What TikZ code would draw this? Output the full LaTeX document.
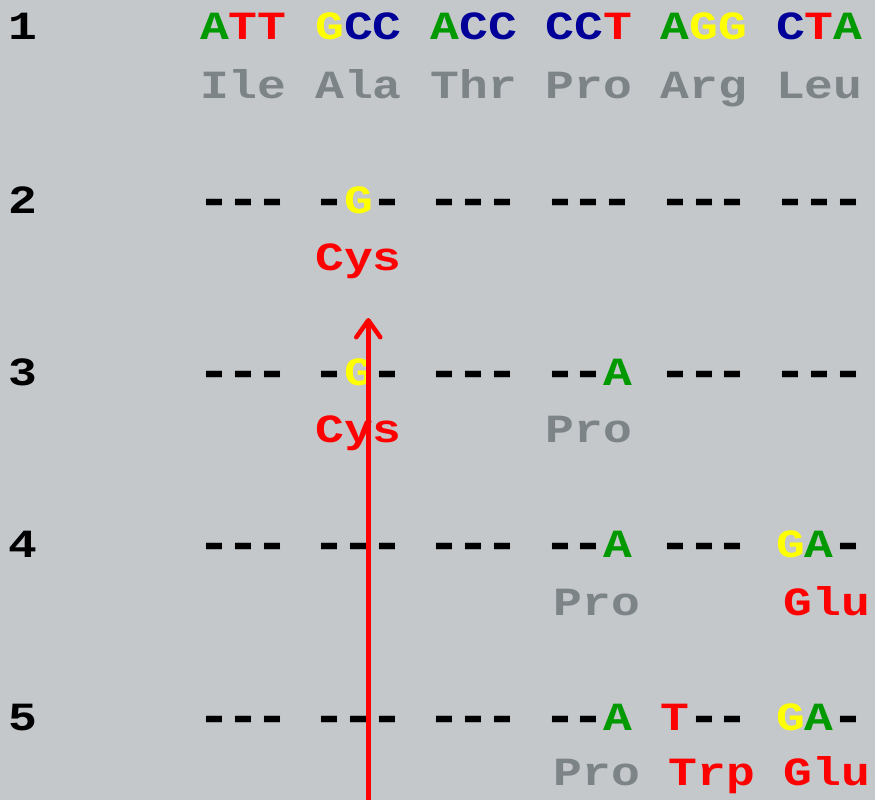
\documentclass[tikz,border=0pt]{standalone}
\usepackage{fontspec}
\newfontfamily\seqfont[FakeStretch=1.2]{Liberation Mono}
\usetikzlibrary{arrows.meta}
\definecolor{pagebg}{RGB}{197,200,203}
\definecolor{ntgreen}{RGB}{0,153,0}
\definecolor{ntred}{RGB}{255,0,0}
\definecolor{ntyellow}{RGB}{255,255,0}
\definecolor{ntblue}{RGB}{0,0,153}
\definecolor{aagray}{RGB}{125,132,135}
% coloured nucleotides
\newcommand\ntA{\textcolor{ntgreen}{A}}
\newcommand\ntT{\textcolor{ntred}{T}}
\newcommand\ntG{\textcolor{ntyellow}{G}}
\newcommand\ntC{\textcolor{ntblue}{C}}
% an unchanged position: a widened, thickened hyphen in one character cell
\newcommand\gap{\makebox[28.8pt][c]{\raisebox{-3.5pt}{\scalebox{1.18}[1.35]{-}}}}
\begin{document}
\begin{tikzpicture}[x=1pt,y=-1pt,
  seq/.style={anchor=base west,inner sep=0pt,outer sep=0pt,
    font=\fontsize{40}{40}\selectfont\seqfont\bfseries},
  rowlabel/.style={seq,text=black},
  aa/.style={seq,text=aagray},
  aanew/.style={seq,text=ntred},
  mutation/.style={draw=ntred,line width=4.5pt,
    -{Straight Barb[length=17pt,width=24pt,round]}}]
\useasboundingbox (0,0) rectangle (875,800);
\fill[pagebg] (0,0) rectangle (875,800);

% row labels
\node[rowlabel] (l1) at (8.6,40)  {1};
\node[rowlabel] (l2) at (8.6,213) {2};
\node[rowlabel] (l3) at (8.6,385) {3};
\node[rowlabel] (l4) at (8.6,557) {4};
\node[rowlabel] (l5) at (8.6,730) {5};

% row 1: original sequence
\node[seq] (s1a) at (200,40)   {\ntA\ntT\ntT};
\node[seq] (s1b) at (315.2,40) {\ntG\ntC\ntC};
\node[seq] (s1c) at (430.4,40) {\ntA\ntC\ntC};
\node[seq] (s1d) at (545.6,40) {\ntC\ntC\ntT};
\node[seq] (s1e) at (660.8,40) {\ntA\ntG\ntG};
\node[seq] (s1f) at (776,40)   {\ntC\ntT\ntA};
\node[aa] (a1a) at (200,98)   {Ile};
\node[aa] (a1b) at (315.2,98) {Ala};
\node[aa] (a1c) at (430.4,98) {Thr};
\node[aa] (a1d) at (545.6,98) {Pro};
\node[aa] (a1e) at (660.8,98) {Arg};
\node[aa] (a1f) at (776,98)   {Leu};

% row 2
\node[seq] (s2a) at (200,213)   {\gap\gap\gap};
\node[seq] (s2b) at (315.2,213) {\gap\ntG\gap};
\node[seq] (s2c) at (430.4,213) {\gap\gap\gap};
\node[seq] (s2d) at (545.6,213) {\gap\gap\gap};
\node[seq] (s2e) at (660.8,213) {\gap\gap\gap};
\node[seq] (s2f) at (776,213)   {\gap\gap\gap};
\node[aanew] (a2b) at (315.2,270) {Cys};

% row 3
\node[seq] (s3a) at (200,385)   {\gap\gap\gap};
\node[seq] (s3b) at (315.2,385) {\gap\ntG\gap};
\node[seq] (s3c) at (430.4,385) {\gap\gap\gap};
\node[seq] (s3d) at (545.6,385) {\gap\gap\ntA};
\node[seq] (s3e) at (660.8,385) {\gap\gap\gap};
\node[seq] (s3f) at (776,385)   {\gap\gap\gap};
\node[aanew] (a3b) at (315.2,442) {Cys};
\node[aa] (a3d) at (545.6,442) {Pro};

% row 4
\node[seq] (s4a) at (200,557)   {\gap\gap\gap};
\node[seq] (s4b) at (315.2,557) {\gap\gap\gap};
\node[seq] (s4c) at (430.4,557) {\gap\gap\gap};
\node[seq] (s4d) at (545.6,557) {\gap\gap\ntA};
\node[seq] (s4e) at (660.8,557) {\gap\gap\gap};
\node[seq] (s4f) at (776,557)   {\ntG\ntA\gap};
\node[aa] (a4d) at (553.5,615) {Pro};
\node[aanew] (a4f) at (783.5,615) {Glu};

% row 5
\node[seq] (s5a) at (200,730)   {\gap\gap\gap};
\node[seq] (s5b) at (315.2,730) {\gap\gap\gap};
\node[seq] (s5c) at (430.4,730) {\gap\gap\gap};
\node[seq] (s5d) at (545.6,730) {\gap\gap\ntA};
\node[seq] (s5e) at (660.8,730) {\ntT\gap\gap};
\node[seq] (s5f) at (776,730)   {\ntG\ntA\gap};
\node[aa] (a5d) at (553.5,785) {Pro};
\node[aanew] (a5e) at (668.5,785) {Trp};
\node[aanew] (a5f) at (783.5,785) {Glu};

% reversion arrow
\coordinate (arrowfoot) at (368.3,802);
\coordinate (arrowtip) at (368.3,318);
\draw[mutation] (arrowfoot) -- (arrowtip);
\end{tikzpicture}
\end{document}
